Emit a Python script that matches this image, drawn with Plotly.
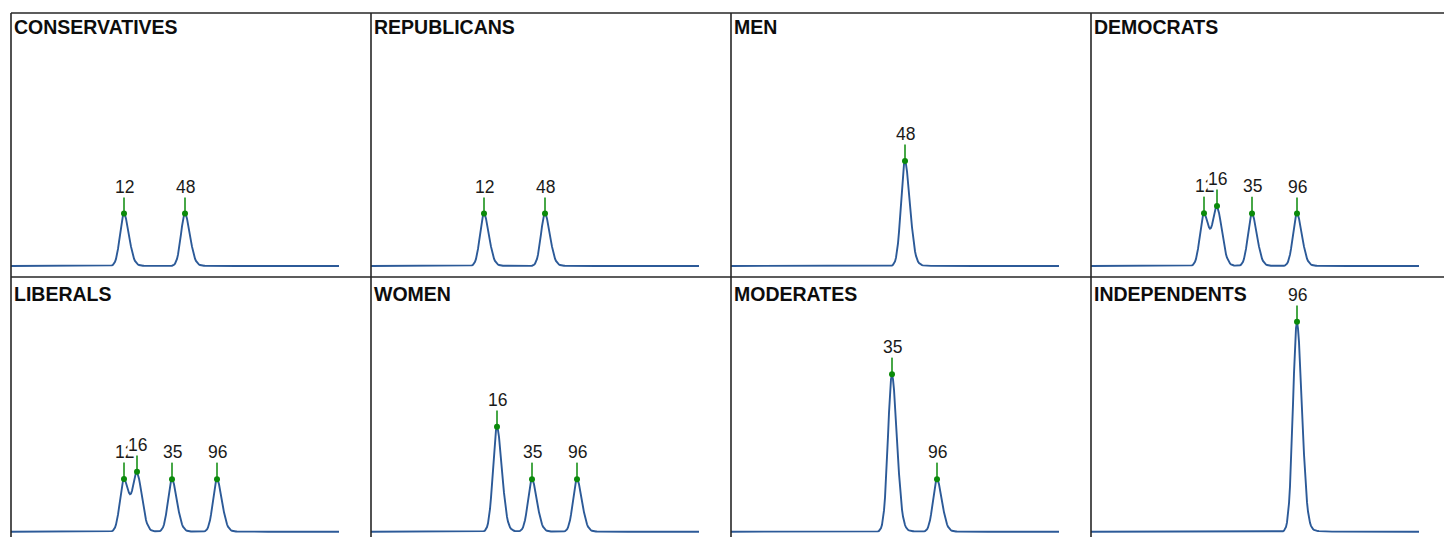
import numpy as np
import plotly.graph_objects as go

# ---------------- data ----------------
panel_titles = ["CONSERVATIVES", "REPUBLICANS", "MEN", "DEMOCRATS",
                "LIBERALS", "WOMEN", "MODERATES", "INDEPENDENTS"]

peak_ids = ["12", "16", "35", "48", "96"]          # peak labels
peak_times = [113, 126, 161, 174, 206]             # retention position of each peak

# peak heights per panel, in order of peak_ids (0 = absent)
conservatives = [1.0, 0.0, 0.0, 1.0, 0.0]
republicans   = [1.0, 0.0, 0.0, 1.0, 0.0]
men           = [0.0, 0.0, 0.0, 2.0, 0.0]
democrats     = [1.0, 1.1, 1.0, 0.0, 1.0]
liberals      = [1.0, 1.1, 1.0, 0.0, 1.0]
women         = [0.0, 2.0, 1.0, 0.0, 1.0]
moderates     = [0.0, 0.0, 3.0, 0.0, 1.0]
independents  = [0.0, 0.0, 0.0, 0.0, 4.0]

panel_heights = [conservatives, republicans, men, democrats,
                 liberals, women, moderates, independents]

time_start, time_end = 0, 328

# ---------------- layout constants ----------------
W, H = 1444, 537
col_left = [11, 371, 731, 1091]
col_right = [371, 731, 1091, 1444]
row_top = [13, 277]
row_bottom = [277, 537]
row_baseline = [266, 531.7]
px_per_unit = 52.5
title_offset = [14.5, 16.5]

LINE_BLUE = "#2C5A98"
GREEN = "#0A8A0A"
BORDER = "#262626"


def peak_shape(t, t0, h):
    d = t - t0
    left = np.exp(-d ** 2 / (2 * 4.0 ** 2))
    right = 0.9 * np.exp(-d ** 2 / (2 * 5.0 ** 2)) + 0.1 * np.exp(-np.clip(d, 0, None) / 6.0)
    return h * np.where(d < 0, left, right)


def signal(t, heights):
    total = np.zeros_like(np.asarray(t, dtype=float))
    for t0, h in zip(peak_times, heights):
        if h > 0:
            total = total + peak_shape(np.asarray(t, dtype=float), t0, h)
    return total


fig = go.Figure()
t = np.arange(time_start, time_end + 1, 1.0)
annotations = []
layout_axes = {}

for k, (title, heights) in enumerate(zip(panel_titles, panel_heights)):
    r, c = divmod(k, 4)
    idx = k + 1
    xa = "x" if idx == 1 else f"x{idx}"
    ya = "y" if idx == 1 else f"y{idx}"
    xkey = "xaxis" if idx == 1 else f"xaxis{idx}"
    ykey = "yaxis" if idx == 1 else f"yaxis{idx}"

    left, right = col_left[c], col_right[c]
    top, bottom = row_top[r], row_bottom[r]
    base = row_baseline[r]

    layout_axes[xkey] = dict(domain=[left / W, right / W], range=[0, right - left],
                             visible=False, fixedrange=True, anchor=ya)
    layout_axes[ykey] = dict(domain=[1 - bottom / H, 1 - top / H],
                             range=[-(bottom - base) / px_per_unit, (base - top) / px_per_unit],
                             visible=False, fixedrange=True, anchor=xa)

    y = signal(t, heights)
    fig.add_trace(go.Scatter(x=t, y=y, mode="lines", xaxis=xa, yaxis=ya,
                             line=dict(color=LINE_BLUE, width=1.9), hoverinfo="skip",
                             showlegend=False))

    # peaks present in this panel
    px, py, sx, sy = [], [], [], []
    stem = 17 / px_per_unit
    for pid, t0, h in zip(peak_ids, peak_times, heights):
        if h <= 0:
            continue
        apex = float(signal(np.array([t0]), heights)[0])
        px.append(t0)
        py.append(apex)
        sx += [t0, t0, None]
        sy += [apex, apex + stem, None]
        annotations.append(dict(x=t0, y=apex, xref=xa, yref=ya, text=pid,
                                showarrow=False, yanchor="bottom", xanchor="center",
                                yshift=16, bgcolor="white", borderpad=0,
                                font=dict(family="Liberation Sans, Arial, sans-serif",
                                          size=17.5, color="#1a1a1a")))
    fig.add_trace(go.Scatter(x=sx, y=sy, mode="lines", xaxis=xa, yaxis=ya,
                             line=dict(color=GREEN, width=1.5), hoverinfo="skip",
                             showlegend=False))
    fig.add_trace(go.Scatter(x=px, y=py, mode="markers", xaxis=xa, yaxis=ya,
                             marker=dict(color=GREEN, size=6), hoverinfo="skip",
                             showlegend=False))

    annotations.append(dict(x=(left + 1) / W, y=1 - (top + title_offset[r]) / H,
                            xref="paper", yref="paper", text=f"<b>{title}</b>",
                            showarrow=False, xanchor="left", yanchor="middle",
                            font=dict(family="Liberation Sans, Arial, sans-serif",
                                      size=19.5, color="#0d0d0d")))

shapes = []
# horizontal borders
for yy in [13, 277]:
    shapes.append(dict(type="line", xref="paper", yref="paper",
                       x0=11 / W, x1=1, y0=1 - yy / H, y1=1 - yy / H,
                       line=dict(color=BORDER, width=1.6)))
# vertical borders
for xx in col_left:
    shapes.append(dict(type="line", xref="paper", yref="paper",
                       x0=xx / W, x1=xx / W, y0=0, y1=1 - 13 / H,
                       line=dict(color=BORDER, width=1.6)))

fig.update_layout(width=W, height=H, margin=dict(l=0, r=0, t=0, b=0),
                  paper_bgcolor="white", plot_bgcolor="white",
                  annotations=annotations, shapes=shapes, **layout_axes)

fig.write_html("out.html")
